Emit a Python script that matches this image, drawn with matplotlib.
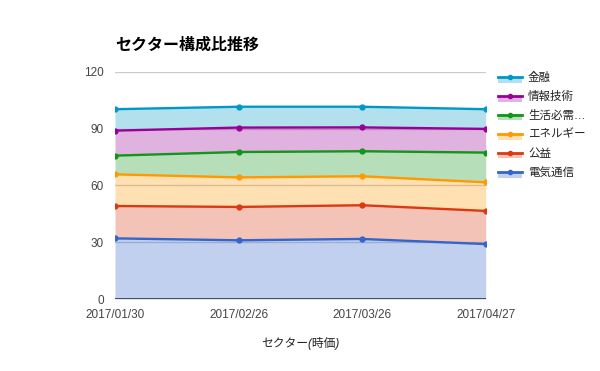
import matplotlib
matplotlib.use("Agg")
import matplotlib.pyplot as plt
from matplotlib.patches import Rectangle
from matplotlib.lines import Line2D
import numpy as np

plt.rcParams['font.family'] = ['Liberation Sans', 'Noto Sans CJK JP', 'DejaVu Sans']

dates = ["2017/01/30", "2017/02/26", "2017/03/26", "2017/04/27"]
series_names = ["電気通信", "公益", "エネルギー", "生活必需品", "情報技術", "金融"]
legend_names = ["電気通信", "公益", "エネルギー", "生活必需…", "情報技術", "金融"]
telecom = [32.0, 31.0, 31.7, 29.0]
utilities = [17.1, 17.6, 17.8, 17.5]
energy = [16.7, 15.6, 15.3, 15.1]
staples = [9.9, 13.4, 13.2, 15.7]
infotech = [13.2, 12.9, 12.6, 12.5]
financials = [11.3, 11.0, 10.9, 10.4]
colors = ["#3366cc", "#dc3912", "#ff9900", "#109618", "#990099", "#0099c6"]
yticks = [0, 30, 60, 90, 120]

data = [telecom, utilities, energy, staples, infotech, financials]

fig = plt.figure(figsize=(6.0, 3.71), dpi=100)
ax = fig.add_axes([115/600, 1-299/371, (485.7-115)/600, (299-71.7)/371])

x = np.arange(len(dates))
base = np.zeros(len(dates))
for vals, c in zip(data, colors):
    top = base + np.array(vals)
    ax.fill_between(x, base, top, color=c, alpha=0.3, linewidth=0, zorder=2)
    ax.plot(x, top, color=c, lw=1.7, marker='o', ms=3.5, zorder=4)
    base = top

ax.set_xlim(0, len(dates)-1)
ax.set_ylim(0, 120)
ax.set_yticks(yticks)
ax.set_yticklabels([str(t) for t in yticks])
ax.set_xticks(x)
ax.set_xticklabels(dates)
for t in yticks[1:]:
    ax.axhline(t, color="#cccccc", lw=1, zorder=1)
ax.axhline(0, color="#333333", lw=1.2, zorder=5)
for s in ax.spines.values():
    s.set_visible(False)
ax.tick_params(axis='both', length=0, labelsize=8.5, colors="#444444")
ax.tick_params(axis='y', pad=8)
ax.tick_params(axis='x', pad=7)

fig.text(115/600, 1-45/371, "セクター構成比推移", fontsize=11.5, fontweight='bold',
         ha='left', va='center', color="#000000")
fig.text(300/600, 1-344/371, "セクター(時価)", fontsize=8.5, style='italic',
         ha='center', va='center', color="#222222")

# legend drawn manually, top entry = last series
ys = [76.7, 95.5, 114.5, 133.5, 152.5, 171.7]
for i, (name, c) in enumerate(zip(legend_names[::-1], colors[::-1])):
    y = ys[i]
    fig.add_artist(Rectangle((498/600, 1-(y+6)/371), 24/600, 6/371,
                             transform=fig.transFigure, color=c, alpha=0.3, lw=0))
    fig.add_artist(Line2D([498/600, 522/600], [1-y/371, 1-y/371],
                          transform=fig.transFigure, color=c, lw=2))
    fig.add_artist(Line2D([510/600], [1-y/371], transform=fig.transFigure,
                          color=c, marker='o', ms=3))
    fig.text(528/600, 1-(y+1)/371, name, fontsize=8.3, ha='left', va='center',
             color="#222222")

fig.savefig("out.png", dpi=100)
